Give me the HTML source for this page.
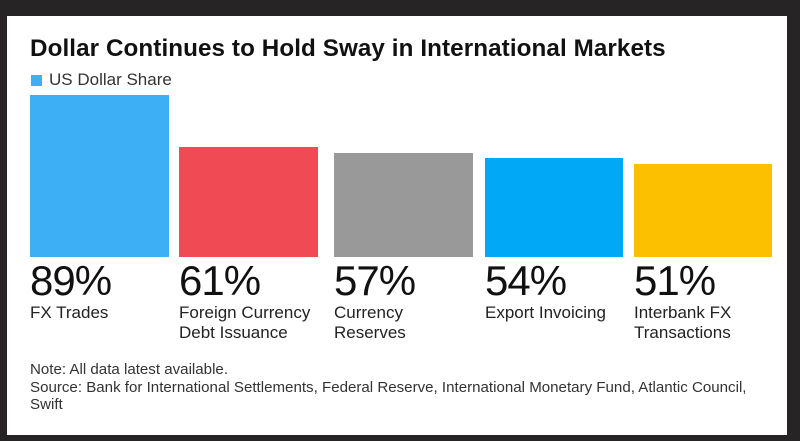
<!DOCTYPE html>
<html><head><style>
body{margin:0;width:800px;height:441px;background:#262424;position:relative;overflow:hidden;font-family:"Liberation Sans",sans-serif;}
.card{position:absolute;left:7px;top:16px;width:780px;height:419px;background:#fff;}
.t{position:absolute;white-space:nowrap;color:#111;}
.bar{position:absolute;}
.pct{position:absolute;top:257px;font-size:42px;color:#111;letter-spacing:-1px;}
.lab{position:absolute;top:303px;font-size:17px;line-height:20px;color:#222;}
</style></head><body>
<div class="card"></div>
<div class="t" style="left:30px;top:35px;font-size:24.2px;font-weight:bold;letter-spacing:0.1px">Dollar Continues to Hold Sway in International Markets</div>
<div style="position:absolute;left:31px;top:75px;width:11px;height:11px;background:#3db0f5"></div>
<div class="t" style="left:49px;top:70px;font-size:17px;color:#333">US Dollar Share</div>
<div class="bar" style="left:30px;width:139px;top:95px;height:162px;background:#3db0f5"></div>
<div class="bar" style="left:179px;width:139px;top:147px;height:110px;background:#f04a55"></div>
<div class="bar" style="left:334px;width:139px;top:153px;height:104px;background:#999"></div>
<div class="bar" style="left:485px;width:138px;top:158px;height:99px;background:#00a8f5"></div>
<div class="bar" style="left:634px;width:138px;top:164px;height:93px;background:#fdc000"></div>
<div class="pct" style="left:30px">89%</div>
<div class="pct" style="left:179px">61%</div>
<div class="pct" style="left:334px">57%</div>
<div class="pct" style="left:485px">54%</div>
<div class="pct" style="left:634px">51%</div>
<div class="lab" style="left:30px">FX Trades</div>
<div class="lab" style="left:179px">Foreign Currency<br>Debt Issuance</div>
<div class="lab" style="left:334px">Currency<br>Reserves</div>
<div class="lab" style="left:485px">Export Invoicing</div>
<div class="lab" style="left:634px">Interbank FX<br>Transactions</div>
<div class="t" style="left:30px;top:361px;font-size:15.1px;line-height:17.5px;color:#333">Note: All data latest available.<br>Source: Bank for International Settlements, Federal Reserve, International Monetary Fund, Atlantic Council,<br>Swift</div>
</body></html>
